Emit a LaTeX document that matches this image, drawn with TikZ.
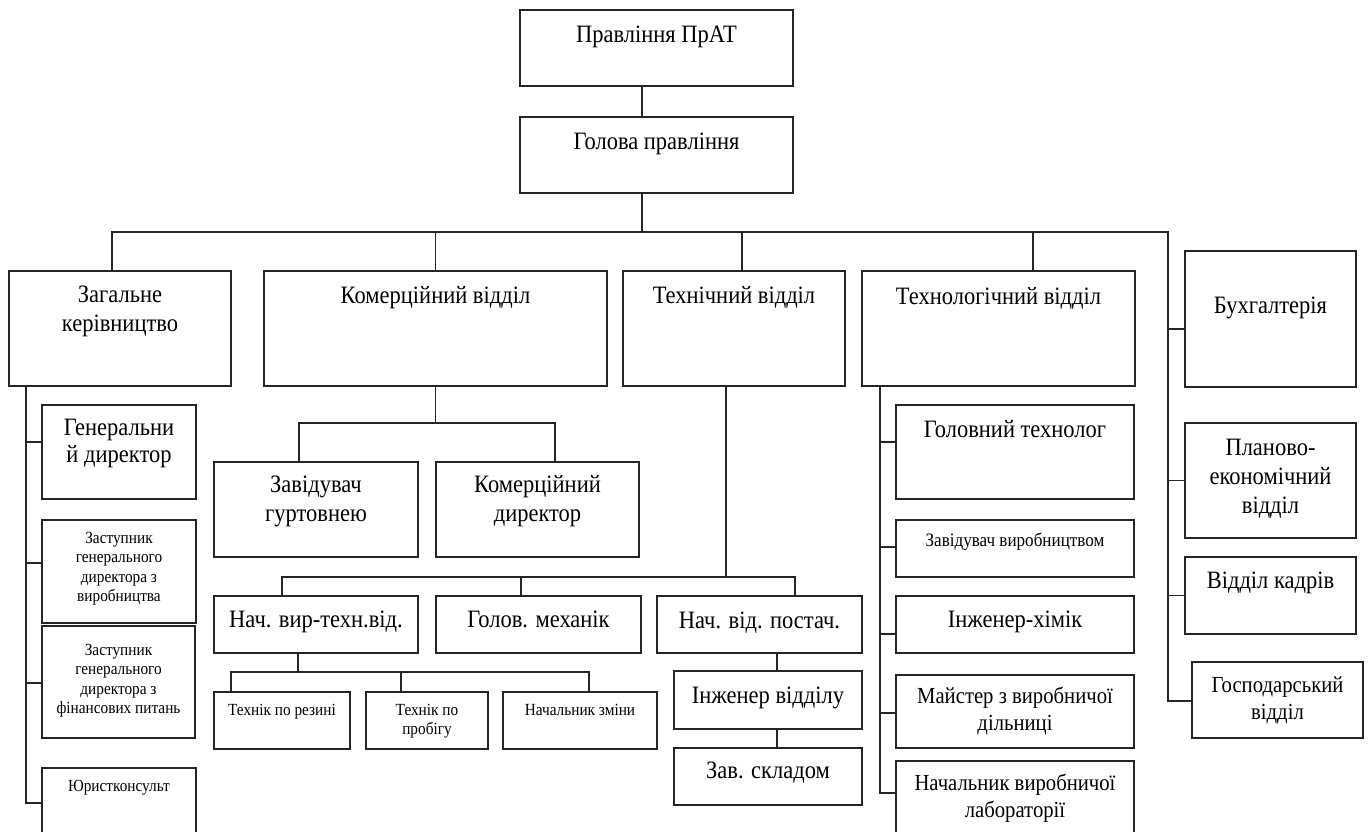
\documentclass[tikz,border=0pt]{standalone}
\usepackage{fontspec}
\setmainfont{Liberation Serif}[FakeStretch=0.9]
\newcommand\ml[1]{\begin{tabular}[t]{@{}c@{}}#1\end{tabular}}
\newcommand\fL{\fontsize{25}{29}\selectfont}
\newcommand\fM{\fontsize{23}{27}\selectfont}
\newcommand\fZ{\fontsize{19}{22}\selectfont}
\newcommand\fS{\fontsize{17}{19.5}\selectfont}
\tikzset{
  orgbox/.style={draw=black!85, line width=1.4pt, inner sep=0pt, outer sep=0pt},
  lbl/.style={anchor=base, inner sep=0pt, text=black},
  conn/.style={draw=black!85, line width=1.4pt}
}
% name, x1, y1, x2, y2, baseline, font, text
\newcommand\obox[8]{%
  \node[orgbox, minimum width={(#4-#2)*1pt}, minimum height={(#5-#3)*1pt}] (#1) at ({(#2+#4)/2},{(#3+#5)/2}) {};
  \node[lbl, font=#7] (#1t) at ({(#2+#4)/2},#6) {\ml{#8}};}
\begin{document}
\begin{tikzpicture}[x=1pt,y=-1pt]
\useasboundingbox (0,0) rectangle (1369,832);
\fill[white] (0,0) rectangle (1369,832);

\obox{pr}{520}{10}{793}{86}{43}{\fL}{Правління ПрАТ}
\obox{gol}{520}{117}{793}{193}{150}{\fL}{Голова правління}
\obox{zag}{9}{271}{231}{386}{302}{\fL}{Загальне\\керівництво}
\obox{kom}{264}{271}{607}{386}{303}{\fL}{Комерційний відділ}
\obox{teh}{623}{271}{845}{386}{303}{\fL}{Технічний відділ}
\obox{tlg}{862}{271}{1135}{386}{304}{\fL}{Технологічний відділ}
\obox{buh}{1185}{251}{1356}{387}{313}{\fL}{Бухгалтерія}

\obox{gen}{42}{405}{196}{499}{435}{\fontsize{25}{27}\selectfont}{Генеральни\\й директор}
\obox{zas1}{42}{520}{196}{623}{543}{\fS}{Заступник\\генерального\\директора з\\виробництва}
\obox{zas2}{42}{626}{195}{738}{655}{\fS}{Заступник\\генерального\\директора з\\фінансових питань}
\obox{yur}{42}{768}{196}{835}{791}{\fS}{Юристконсульт}

\obox{zav}{214}{462}{418}{557}{492}{\fL}{Завідувач\\гуртовнею}
\obox{kdir}{436}{462}{639}{557}{492}{\fL}{Комерційний\\директор}

\obox{nvt}{214}{596}{418}{653}{627}{\fL}{Нач. вир-техн.від.}
\obox{mex}{436}{596}{641}{653}{627}{\fL}{Голов. механік}
\obox{npost}{657}{596}{862}{653}{628}{\fL}{Нач. від. постач.}

\obox{tres}{214}{692}{350}{749}{715}{\fS}{Технік по резині}
\obox{tprob}{366}{692}{488}{749}{715}{\fS}{Технік по\\пробігу}
\obox{nzm}{503}{692}{657}{749}{715}{\fS}{Начальник зміни}

\obox{ing}{674}{671}{862}{729}{703}{\fL}{Інженер відділу}
\obox{zskl}{674}{748}{862}{805}{778}{\fL}{Зав. складом}

\obox{gtech}{896}{405}{1134}{499}{437}{\fL}{Головний технолог}
\obox{zvir}{896}{520}{1134}{577}{546}{\fZ}{Завідувач виробництвом}
\obox{ihim}{896}{596}{1134}{653}{627}{\fL}{Інженер-хімік}
\obox{mays}{896}{675}{1134}{748}{703}{\fM}{Майстер з виробничої\\дільниці}
\obox{nlab}{896}{761}{1134}{835}{790}{\fM}{Начальник виробничої\\лабораторії}

\obox{plan}{1185}{423}{1356}{538}{455}{\fL}{Планово-\\економічний\\відділ}
\obox{kadr}{1185}{557}{1356}{634}{588}{\fL}{Відділ кадрів}
\obox{gosp}{1192}{662}{1363}{738}{692}{\fM}{Господарський\\відділ}

% top chain
\draw[conn] ([xshift=-14.5pt]pr.south) -- ([xshift=-14.5pt]gol.north);
\coordinate (busL) at (112,232);
\coordinate (busR) at (1168,232);
\coordinate (rv) at (1168,701);
\draw[conn] ([xshift=-14.5pt]gol.south) -- ([xshift=-14.5pt]gol.south |- busL);
\draw[conn] (busL |- zag.north) -- (busL) -- (busR) -- (rv) -- (rv -| gosp.west);
\draw[conn] (kom.north) -- (kom.north |- busL);
\draw[conn] ([xshift=8pt]teh.north) -- ([xshift=8pt]teh.north |- busL);
\draw[conn] ([xshift=34.5pt]tlg.north) -- ([xshift=34.5pt]tlg.north |- busL);

% right column
\draw[conn] ([yshift=-10pt]buh.west) -- ++(-17,0);
\draw[conn] (plan.west) -- ++(-17,0);
\draw[conn] (kadr.west) -- ++(-17,0);

% general management
\coordinate (zv) at (26,803);
\draw[conn] (zv |- zag.south) -- (zv) -- (zv -| yur.west);
\draw[conn] ([yshift=10pt]gen.west) -- ++(-16,0);
\draw[conn] ([yshift=8.5pt]zas1.west) -- ++(-16,0);
\draw[conn] ([yshift=-1pt]zas2.west) -- ++(-16,0);

% commercial
\coordinate (kb) at (436,423);
\draw[conn] (kom.south) -- (kom.south |- kb);
\draw[conn] ([xshift=-17pt]zav.north) -- ([xshift=-17pt]zav.north |- kb) -- ([xshift=17.5pt]kdir.north |- kb) -- ([xshift=17.5pt]kdir.north);

% technical
\coordinate (tb) at (726,577);
\draw[conn] ([xshift=-8pt]teh.south) -- (tb);
\draw[conn] ([xshift=-34pt]nvt.north) -- ([xshift=-34pt]nvt.north |- tb) -- ([xshift=35.5pt]npost.north |- tb) -- ([xshift=35.5pt]npost.north);
\draw[conn] ([xshift=-17.5pt]mex.north) -- ([xshift=-17.5pt]mex.north |- tb);

\coordinate (nb) at (298,672);
\draw[conn] ([xshift=-18pt]nvt.south) -- (nb);
\draw[conn] ([xshift=-51pt]tres.north) -- ([xshift=-51pt]tres.north |- nb) -- ([xshift=9pt]nzm.north |- nb) -- ([xshift=9pt]nzm.north);
\draw[conn] ([xshift=-26pt]tprob.north) -- ([xshift=-26pt]tprob.north |- nb);

\draw[conn] ([xshift=17.5pt]npost.south) -- ([xshift=17.5pt]npost.south |- ing.north);
\draw[conn] ([xshift=9pt]ing.south) -- ([xshift=9pt]zskl.north);

% technological
\coordinate (tv) at (880,793);
\draw[conn] (tv |- tlg.south) -- (tv) -- (tv -| nlab.west);
\draw[conn] ([yshift=10pt]gtech.west) -- ++(-16,0);
\draw[conn] ([yshift=1.5pt]zvir.west) -- ++(-16,0);
\draw[conn] ([yshift=-9.5pt]ihim.west) -- ++(-16,0);
\draw[conn] ([yshift=-1.5pt]mays.west) -- ++(-16,0);
\end{tikzpicture}
\end{document}
